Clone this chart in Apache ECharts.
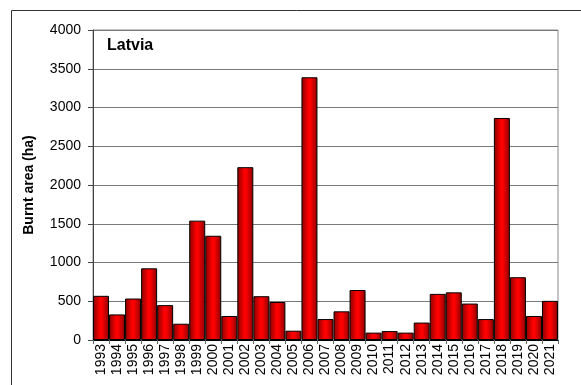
<!DOCTYPE html>
<html>
<head>
<meta charset="utf-8">
<script src="https://cdn.jsdelivr.net/npm/echarts@6/dist/echarts.min.js"></script>
<style>
html,body{margin:0;padding:0;background:#fff;}
#chart{width:581px;height:385px;}
</style>
</head>
<body>
<div id="chart"></div>
<script>
const years = ['1993','1994','1995','1996','1997','1998','1999','2000','2001','2002','2003','2004','2005','2006','2007','2008','2009','2010','2011','2012','2013','2014','2015','2016','2017','2018','2019','2020','2021'];
const burntArea = [570,330,535,925,450,210,1540,1345,310,2230,565,490,120,3390,270,370,645,95,115,95,225,595,615,470,270,2865,810,310,505];
const yTicks = {min:0, max:4000, interval:500};
const title = 'Latvia';
const yName = 'Burnt area (ha)';

const chart = echarts.init(document.getElementById('chart'));
chart.setOption({
  animation:false,
  backgroundColor:'#fff',
  graphic:[
    {type:'rect', shape:{x:11.5,y:10.5,width:600,height:400}, style:{fill:null,stroke:'#333',lineWidth:1}, silent:true, z:-1},
    {type:'text', left:107, top:38, style:{text:title, font:'bold 16px "Liberation Sans", Arial, sans-serif', fill:'#000'}}
  ],
  grid:{left:93, right:23, top:30, bottom:45, show:true, borderColor:'#888', borderWidth:1},
  xAxis:{
    type:'category', data:years,
    axisLine:{show:true, lineStyle:{color:'#000', width:1}},
    axisTick:{show:true, alignWithLabel:false, length:4, lineStyle:{color:'#666'}},
    axisLabel:{rotate:90, fontSize:14, color:'#000', fontFamily:'"Liberation Sans", Arial, sans-serif', margin:4, interval:0}
  },
  yAxis:{
    type:'value', min:yTicks.min, max:yTicks.max, interval:yTicks.interval,
    name:yName, nameLocation:'middle', nameGap:57,
    nameTextStyle:{fontWeight:'bold', fontSize:14, color:'#000', fontFamily:'"Liberation Sans", Arial, sans-serif'},
    axisLine:{show:true, lineStyle:{color:'#444', width:1}},
    axisTick:{show:true, length:5, lineStyle:{color:'#444'}},
    axisLabel:{fontSize:14, color:'#000', fontFamily:'"Liberation Sans", Arial, sans-serif', margin:12, formatter:function(v){return String(v);}},
    splitLine:{show:true, lineStyle:{color:'#7a7a7a', width:1}}
  },
  series:[{
    type:'bar', data:burntArea, barWidth:16, barGap:'0%', barCategoryGap:'0%',
    itemStyle:{
      borderColor:'#000', borderWidth:1,
      color:new echarts.graphic.LinearGradient(0,0,1,0,[
        {offset:0,color:'#8a0000'},
        {offset:0.45,color:'#ff0000'},
        {offset:0.55,color:'#ff0000'},
        {offset:1,color:'#8a0000'}
      ])
    }
  }]
});
</script>
</body>
</html>
